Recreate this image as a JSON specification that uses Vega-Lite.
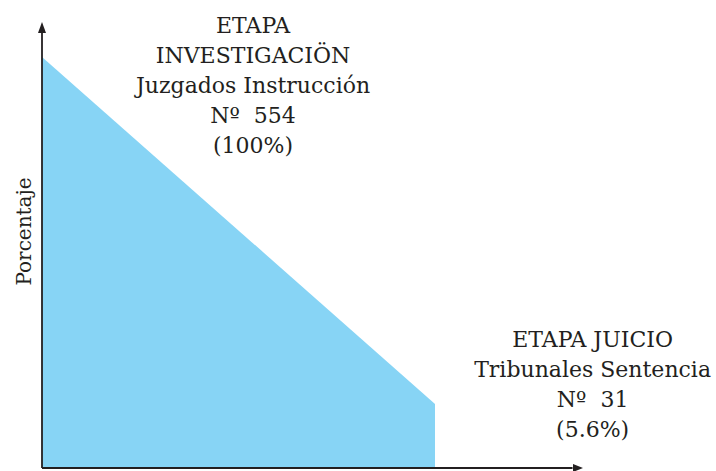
{
  "$schema": "https://vega.github.io/schema/vega-lite/v6.json",
  "width": 674,
  "height": 468,
  "autosize": {"type": "none"},
  "padding": {"left": 42, "top": 0, "right": 0, "bottom": 3},
  "background": "white",
  "config": {"view": {"stroke": null}},
  "datasets": {
    "etapas": [
      {"etapa": "Investigación", "pos": 0, "valor": 100},
      {"etapa": "Juicio", "pos": 1, "valor": 15.6}
    ],
    "ejes": [
      {"eje": "y", "x": 0, "x2": 0, "y": 0, "y2": 106},
      {"eje": "x", "x": 0, "x2": 1.35, "y": 0, "y2": 0}
    ],
    "flechas": [
      {"eje": "y", "x": 0, "y": 107.18},
      {"eje": "x", "x": 1.3639, "y": 0}
    ],
    "etiquetas": [
      {"pos": 0.537, "valor": 105.84, "texto": ["ETAPA", "INVESTIGACIÖN", "Juzgados Instrucción", "Nº\u00a0 554", "(100%)"]},
      {"pos": 1.401, "valor": 29.44, "texto": ["ETAPA JUICIO", "Tribunales Sentencia", "Nº\u00a0 31", "(5.6%)"]}
    ]
  },
  "layer": [
    {
      "data": {"name": "etapas"},
      "mark": {"type": "area", "color": "#87d4f5", "interpolate": "linear"},
      "encoding": {
        "x": {"field": "pos", "type": "quantitative", "scale": {"domain": [0, 1.715], "nice": false, "zero": false}, "axis": null},
        "y": {"field": "valor", "type": "quantitative", "scale": {"domain": [0, 113.87], "nice": false},
          "axis": {"title": "Porcentaje", "domain": false, "ticks": false, "labels": false, "grid": false,
            "titleFont": "DejaVu Serif", "titleFontSize": 20, "titleFontWeight": "normal", "titleColor": "#231f20", "titlePadding": 8, "titleY": 231}}
      }
    },
    {
      "data": {"name": "ejes"},
      "mark": {"type": "rule", "color": "#231f20", "strokeWidth": 1.8},
      "encoding": {
        "x": {"field": "x", "type": "quantitative"},
        "x2": {"field": "x2"},
        "y": {"field": "y", "type": "quantitative"},
        "y2": {"field": "y2"}
      }
    },
    {
      "data": {"name": "flechas"},
      "mark": {"type": "point", "filled": true, "color": "#231f20", "opacity": 1},
      "encoding": {
        "x": {"field": "x", "type": "quantitative"},
        "y": {"field": "y", "type": "quantitative"},
        "shape": {"field": "eje", "type": "nominal", "scale": {"domain": ["y", "x"], "range": ["M0,-1L0.73,1L-0.73,1Z", "M1,0L-1,-0.8L-1,0.8Z"]}, "legend": null},
        "size": {"field": "eje", "type": "nominal", "scale": {"domain": ["y", "x"], "range": [121, 100]}, "legend": null}
      }
    },
    {
      "data": {"name": "etiquetas"},
      "mark": {"type": "text", "font": "DejaVu Serif", "fontSize": 22, "color": "#231f20", "align": "center", "baseline": "alphabetic", "lineHeight": 30},
      "encoding": {
        "x": {"field": "pos", "type": "quantitative"},
        "y": {"field": "valor", "type": "quantitative"},
        "text": {"field": "texto"}
      }
    }
  ]
}
